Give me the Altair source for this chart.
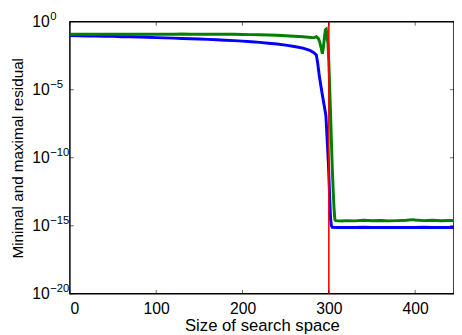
import altair as alt
import pandas as pd

# ---- data (log10 of residuals) ----
blue_x = [0, 10, 20, 30, 40, 50, 60, 70, 80, 90, 100, 110, 120, 130, 140, 150,
          160, 170, 180, 190, 200, 210, 220, 230, 240, 250, 260, 270, 278, 283,
          285.5, 287, 289, 291, 292.8, 295, 296.6, 298, 299.5, 301, 302, 303, 304,
          310, 320, 330, 340, 350, 360, 370, 380, 390, 400, 410, 420, 430, 440, 445]
blue_log = [-1.02, -1.04, -1.05, -1.05, -1.07, -1.08, -1.10, -1.11, -1.13, -1.15, -1.17, -1.19,
            -1.21, -1.23, -1.25, -1.27, -1.30, -1.33, -1.36, -1.39, -1.43, -1.47, -1.52,
            -1.58, -1.64, -1.72, -1.82, -1.94, -2.10, -2.30,
            -2.45, -3.0, -4.0, -4.8, -5.5, -6.3, -6.9, -8.6, -10.4, -13.0, -14.5, -15.0, -15.12,
            -15.13, -15.12, -15.13, -15.11, -15.12, -15.13, -15.12, -15.12, -15.13, -15.12,
            -15.11, -15.12, -15.13, -15.12, -15.12]

green_x = [0, 10, 20, 30, 40, 50, 60, 70, 80, 90, 100, 110, 120, 130, 140, 150,
           160, 170, 180, 190, 200, 210, 220, 230, 240, 250, 260, 270, 280, 283,
           285.5, 288, 289.5, 291, 292.5, 293.5, 295, 296, 297, 298, 299, 300,
           301.5, 302.6, 304, 305, 306, 307, 308,
           315, 320, 330, 340, 350, 360, 370, 380, 390, 397, 400, 410, 420, 430, 440, 445]
green_log = [-0.93, -0.92, -0.93, -0.92, -0.93, -0.92, -0.93, -0.93, -0.92, -0.93, -0.93, -0.92,
             -0.92, -0.91, -0.92, -0.92, -0.93, -0.92, -0.93, -0.93, -0.94, -0.95, -0.96,
             -0.98, -1.00, -1.03, -1.07, -1.11, -1.16, -1.17,
             -1.10, -1.25, -1.50, -1.90, -2.35, -2.00, -1.10, -0.60, -0.55, -1.20, -1.60, -3.0,
             -5.8, -8.0, -10.8, -12.3, -13.7, -14.55, -14.62,
             -14.65, -14.62, -14.64, -14.60, -14.63, -14.61, -14.64, -14.62, -14.60, -14.55, -14.58,
             -14.62, -14.60, -14.63, -14.61, -14.62]

red_x = [300]

x_ticks = [0, 100, 200, 300, 400]
y_ticks = [1e0, 1e-5, 1e-10, 1e-15, 1e-20]
y_exp = ["0", "\u22125", "\u221210", "\u221215", "\u221220"]

# ---- tables ----
lines = pd.DataFrame(
    {"x": blue_x + green_x,
     "y": [10 ** v for v in blue_log] + [10 ** v for v in green_log],
     "s": ["min"] * len(blue_x) + ["max"] * len(green_x),
     "o": list(range(len(blue_x))) + list(range(len(green_x)))}
)
red = pd.DataFrame({"x": red_x})
xt = pd.DataFrame({"x": x_ticks})
yt = pd.DataFrame({"y": y_ticks, "e": y_exp})

W, H = 391, 277
FONT = "Liberation Sans"

xscale = alt.Scale(domain=[0, 445], nice=False, zero=False)
yscale = alt.Scale(type="log", domain=[1e-20, 1], nice=False)

xaxis = alt.Axis(values=x_ticks, title="Size of search space", grid=False, ticks=False,
                 tickSize=0, labelPadding=7, labelFontSize=16, titleFontSize=17,
                 titleFontWeight="normal", titlePadding=1, domain=False,
                 labelColor="black", titleColor="black", labelFont=FONT, titleFont=FONT)
yaxis = alt.Axis(values=y_ticks, labelExpr="'10'", title="Minimal and maximal residual",
                 grid=False, ticks=False, tickSize=0, labelPadding=21, labelFontSize=16,
                 titleFontSize=15.5, titleFontWeight="normal", titlePadding=6, domain=False,
                 labelColor="black", titleColor="black", labelFont=FONT, titleFont=FONT)

base_lines = alt.Chart(lines).mark_line(strokeWidth=3, clip=True).encode(
    x=alt.X("x:Q", scale=xscale, axis=xaxis),
    y=alt.Y("y:Q", scale=yscale, axis=yaxis),
    color=alt.Color("s:N", scale=alt.Scale(domain=["min", "max"], range=["#0000ff", "#008000"]),
                    legend=None),
    order="o:Q",
    detail="s:N",
)

red_rule = alt.Chart(red).mark_rule(color="#ff0000", strokeWidth=1.6).encode(
    x=alt.X("x:Q", scale=xscale)
)

xt_bottom = alt.Chart(xt).mark_rule(color="black", strokeWidth=0.6).encode(
    x=alt.X("x:Q", scale=xscale), y=alt.value(H), y2=alt.value(H - 4))
xt_top = alt.Chart(xt).mark_rule(color="black", strokeWidth=0.6).encode(
    x=alt.X("x:Q", scale=xscale), y=alt.value(0), y2=alt.value(4))
yt_left = alt.Chart(yt).mark_rule(color="black", strokeWidth=0.6).encode(
    y=alt.Y("y:Q", scale=yscale), x=alt.value(0), x2=alt.value(4))
yt_right = alt.Chart(yt).mark_rule(color="black", strokeWidth=0.6).encode(
    y=alt.Y("y:Q", scale=yscale), x=alt.value(W - 4), x2=alt.value(W))

exps = alt.Chart(yt).mark_text(align="left", baseline="alphabetic", fontSize=11.5, font=FONT,
                               color="black", dy=-2).encode(
    y=alt.Y("y:Q", scale=yscale), x=alt.value(-20), text="e:N")

chart = alt.layer(base_lines, red_rule, xt_bottom, xt_top, yt_left, yt_right, exps).properties(
    width=W, height=H,
    autosize=alt.AutoSizeParams(type="none"),
    padding={"left": 63, "top": 11, "right": 0, "bottom": 39},
).configure(font=FONT).configure_view(stroke="black", strokeWidth=1.5)

chart.save("out.html", embed_options={"renderer": "svg", "actions": False})
